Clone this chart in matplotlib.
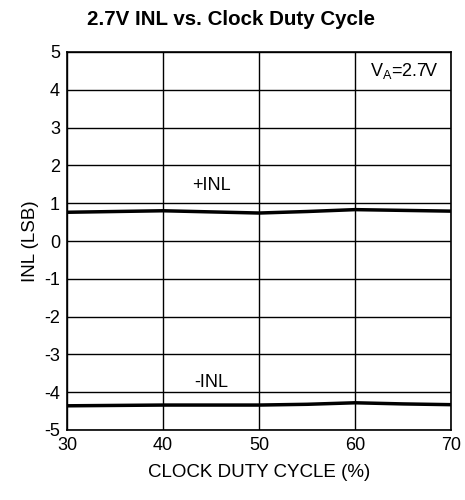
import matplotlib.pyplot as plt

plt.rcParams['font.family'] = ['Liberation Sans', 'DejaVu Sans']
plt.rcParams['axes.unicode_minus'] = False

duty = [30, 35, 40, 45, 50, 55, 60, 65, 70]
inl_pos = [0.76, 0.78, 0.80, 0.77, 0.74, 0.78, 0.83, 0.81, 0.79]
inl_neg = [-4.36, -4.35, -4.34, -4.34, -4.34, -4.32, -4.28, -4.31, -4.33]

fig = plt.figure(figsize=(4.65, 5.0), dpi=100)
ax = fig.add_axes([0.144, 0.14, 0.826, 0.756])

ax.plot(duty, inl_pos, color='black', lw=2.5)
ax.plot(duty, inl_neg, color='black', lw=2.5)

ax.set_xlim(30, 70)
ax.set_ylim(-5, 5)
ax.set_xticks(range(30, 71, 10))
ax.set_yticks(range(-5, 6))
ax.grid(True, color='black', lw=1)
ax.tick_params(length=0, labelsize=13, pad=5)
for s in ax.spines.values():
    s.set_linewidth(1.2)

ax.text(45, 1.35, '+INL', fontsize=13, ha='center')
ax.text(45, -3.85, '-INL', fontsize=13, ha='center')
ax.text(65.1, 4.5, '$\\mathregular{V_A}$=2.7V', fontsize=13, ha='center', va='center')

ax.set_xlabel('CLOCK DUTY CYCLE (%)', fontsize=13.5, labelpad=7)
ax.set_ylabel('INL (LSB)', fontsize=13.5, labelpad=4)
fig.text(0.497, 0.95, '2.7V INL vs. Clock Duty Cycle', fontsize=14.8, weight='bold', ha='center')

plt.savefig('out.png')
